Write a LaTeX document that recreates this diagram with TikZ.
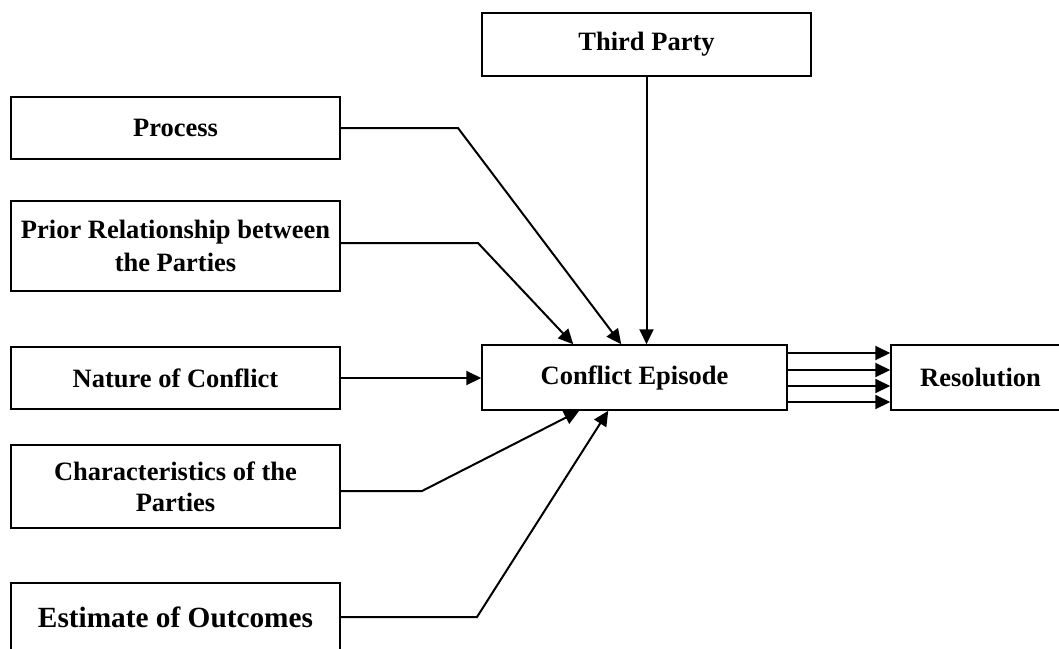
\documentclass[tikz,border=0pt]{standalone}
\usepackage{fontspec}
\setmainfont{Liberation Serif}
\usetikzlibrary{arrows.meta,calc}
\begin{document}
\begin{tikzpicture}[x=1pt,y=-1pt,
  box/.style={draw,line width=1.5pt,rectangle,align=center,inner sep=0pt,
    font=\fontsize{26.5}{33}\selectfont\bfseries},
  arr/.style={line width=2pt,-{Triangle[length=15pt,width=14pt]}}]
\useasboundingbox (0,0) rectangle (1059,648);
% factor boxes on the left
\node[box,minimum width=329pt,minimum height=62pt] (process) at (175.5,128) {Process};
\node[box,minimum width=329pt,minimum height=90pt] (prior) at (175.5,246) {Prior Relationship between\\the Parties};
\node[box,minimum width=329pt,minimum height=62pt] (nature) at (175.5,378) {Nature of Conflict};
\node[box,minimum width=329pt,minimum height=83pt,font=\fontsize{26.5}{31}\selectfont\bfseries] (charac) at (175.5,486.5) {Characteristics of the\\Parties};
\node[box,minimum width=329pt,minimum height=68pt,font=\fontsize{29.3}{34}\selectfont\bfseries] (estimate) at (175.5,617) {Estimate of Outcomes};
% top, centre and result boxes
\node[box,minimum width=329pt,minimum height=63pt] (third) at (646.5,44.5) {Third Party};
\node[box,minimum width=305pt,minimum height=65pt] (conflict) at (634.5,377.5) {Conflict Episode};
\node[box,minimum width=179pt,minimum height=65pt] (resolution) at (980.5,377.5) {Resolution};
% bend points of the connectors
\coordinate (pb) at (458,128);
\coordinate (rb) at (478,243);
\coordinate (cb) at (422,491);
\coordinate (eb) at (477,617);
% connectors into the conflict episode
\draw[arr] (process.east) -- (pb) -- ([xshift=140pt]conflict.north west);
\draw[arr] (prior.east |- rb) -- (rb) -- ([xshift=92pt]conflict.north west);
\draw[arr] (third.south) -- (third.south |- conflict.north);
\draw[arr] (nature.east) -- (nature.east -| conflict.west);
\draw[arr] (charac.east |- cb) -- (cb) -- ([xshift=98pt]conflict.south west);
\draw[arr] (estimate.east |- eb) -- (eb) -- ([xshift=127pt]conflict.south west);
% four parallel outcomes
\foreach \d in {24.5,7.5,-8.5,-24.5}
  \draw[arr] ([yshift=\d pt]conflict.east) -- ([yshift=\d pt]resolution.west);
\end{tikzpicture}
\end{document}
